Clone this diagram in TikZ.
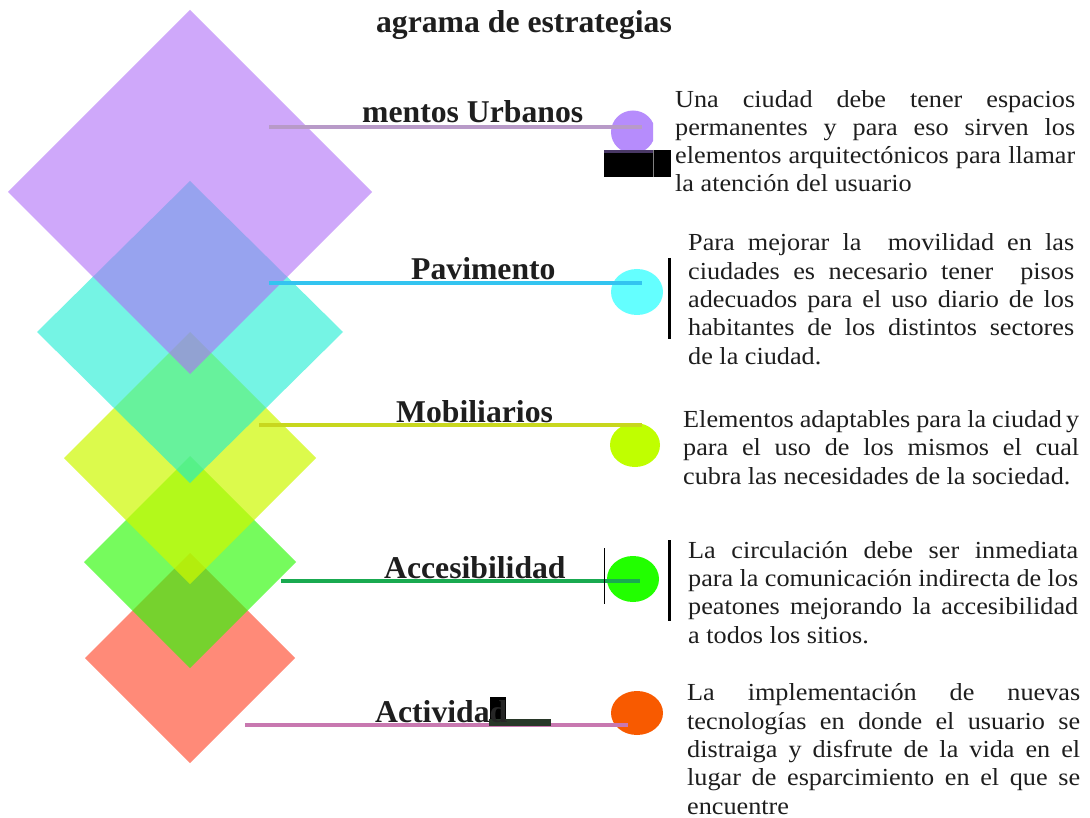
\documentclass[tikz,border=0pt]{standalone}
\usepackage{fontspec}
\setmainfont{Liberation Serif}
\newfontfamily\bodyf{Liberation Serif}[FakeStretch=1.07]
\usetikzlibrary{shapes.geometric}

\definecolor{txt}{RGB}{30,30,30}
\definecolor{dpurple}{RGB}{175,110,247}
\definecolor{dcyan}{RGB}{25,237,210}
\definecolor{dyellow}{RGB}{206,249,0}
\definecolor{dgreen}{RGB}{46,249,7}
\definecolor{dred}{RGB}{255,60,30}
\definecolor{lpurple}{RGB}{184,154,200}
\definecolor{lblue}{RGB}{51,196,240}
\definecolor{lyellow}{RGB}{200,215,30}
\definecolor{lgreen}{RGB}{25,170,80}
\definecolor{lpink}{RGB}{200,120,176}
\definecolor{cpurple}{RGB}{182,140,252}
\definecolor{ccyan}{RGB}{100,255,255}
\definecolor{cyellow}{RGB}{192,255,0}
\definecolor{cgreen}{RGB}{34,255,0}
\definecolor{corange}{RGB}{248,90,0}
\definecolor{dstrip}{RGB}{40,55,40}

\tikzset{
  conn/.style={line width=4pt},
  dot/.style={ellipse, inner sep=0pt, draw=none},
  lbl/.style={anchor=base west, inner sep=0pt, text=txt, font=\bfseries\fontsize{31.7}{36}\selectfont},
  para/.style={anchor=base west, inner sep=0pt, align=left, text=txt, font=\bodyf\fontsize{24.5}{28.3}\selectfont},
  bar/.style={line width=3pt, black}
}

\begin{document}
\begin{tikzpicture}[x=1pt,y=-1pt]
\useasboundingbox (0,0) rectangle (1090,818);
\fill[white] (0,0) rectangle (1090,818);

% diamonds (bottom first)
\fill[dred, fill opacity=0.6] (190,553) -- (295,658) -- (190,763) -- (85,658) -- cycle;
\fill[dgreen, fill opacity=0.65] (190,456) -- (296,562) -- (190,668) -- (84,562) -- cycle;
\fill[dyellow, fill opacity=0.7] (190,332) -- (316,458) -- (190,584) -- (64,458) -- cycle;
\fill[dcyan, fill opacity=0.6] (190,181) -- (343,332) -- (190,483) -- (37,332) -- cycle;
\fill[dpurple, fill opacity=0.6] (190,10) -- (372,192) -- (190,374) -- (8,192) -- cycle;

% circles
\begin{scope}
  \clip (600,100) rectangle (653,160);
  \node[dot, fill=cpurple, minimum width=44pt, minimum height=43pt] (c1) at (633,132) {};
\end{scope}
\node[dot, fill=ccyan, minimum width=52pt, minimum height=46pt] (c2) at (637,292) {};
\node[dot, fill=cyellow, minimum width=50pt, minimum height=44pt] (c3) at (635,445) {};
\node[dot, fill=cgreen, minimum width=52pt, minimum height=46pt] (c4) at (633,579) {};
\node[dot, fill=corange, minimum width=52pt, minimum height=44pt] (c5) at (637,713) {};

% connector ends
\coordinate (s1) at (269,127); \coordinate (e1) at (642,127);
\coordinate (s2) at (269,283); \coordinate (e2) at (642,283);
\coordinate (s3) at (259,425); \coordinate (e3) at (642,425);
\coordinate (s4) at (281,581); \coordinate (e4) at (640,581);
\coordinate (s5) at (245,725); \coordinate (e5) at (628,725);

\draw[conn, lpurple] (s1) -- (e1);
\draw[conn, lblue] (s2) -- (e2);
\draw[conn, lyellow] (s3) -- (e3);
\draw[conn, lgreen] (s4) -- (e4);
\draw[conn, lpink] (s5) -- (e5);

% artefacts
\fill[black] (604,150) rectangle (671,177);
\fill[black!60!cpurple] (604,150) rectangle (653,153);
\draw[gray, line width=0.8pt] (653,150) -- (653,177);
\fill[black] (490,697) rectangle (506,719);
\fill[dstrip] (489,719) rectangle (551,726);

% bars
\coordinate (b1t) at (669,258); \coordinate (b1b) at (669,339);
\coordinate (b2t) at (669,540); \coordinate (b2b) at (669,621);
\coordinate (b3t) at (604,548); \coordinate (b3b) at (604,604);
\draw[bar] (b1t) -- (b1b);
\draw[bar] (b2t) -- (b2b);
\draw[black, line width=1pt] (b3t) -- (b3b);

% title and labels
\node[lbl, anchor=base] (title) at (524,33) {agrama de estrategias};
\node[lbl] (n1) at (362,123) {mentos Urbanos};
\node[lbl] (n2) at (411,280) {Pavimento};
\node[lbl] (n3) at (396,422) {Mobiliarios};
\node[lbl] (n4) at (384,578) {Accesibilidad};
\node[lbl] (n5) at (375,722) {Activida\textcolor{black!85}{d}};

% paragraphs (base anchor = baseline of last line)
\node[para] (t1) at (675,192) {%
\makebox[400pt][s]{Una ciudad debe tener espacios}\\
\makebox[400pt][s]{permanentes y para eso sirven los}\\
\makebox[400pt][s]{elementos arquitectónicos para llamar}\\
la atención del usuario};

\node[para] (t2) at (688,364) {%
\makebox[386pt][s]{Para mejorar la \ movilidad en las}\\
\makebox[386pt][s]{ciudades es necesario tener \ pisos}\\
\makebox[386pt][s]{adecuados para el uso diario de los}\\
\makebox[386pt][s]{habitantes de los distintos sectores}\\
de la ciudad.};

\node[para] (t3) at (683,484) {%
\makebox[396pt][s]{Elementos adaptables para la ciudad\,y}\\
\makebox[396pt][s]{para el uso de los mismos el cual}\\
cubra las necesidades de la sociedad.};

\node[para] (t4) at (688,643) {%
\makebox[390pt][s]{La circulación debe ser inmediata}\\
\makebox[390pt][s]{para la comunicación indirecta de los}\\
\makebox[390pt][s]{peatones mejorando la accesibilidad}\\
a todos los sitios.};

\node[para] (t5) at (687,814) {%
\makebox[393pt][s]{La implementación de nuevas}\\
\makebox[393pt][s]{tecnologías en donde el usuario se}\\
\makebox[393pt][s]{distraiga y disfrute de la vida en el}\\
\makebox[393pt][s]{lugar de esparcimiento en el que se}\\
encuentre};
\end{tikzpicture}
\end{document}
